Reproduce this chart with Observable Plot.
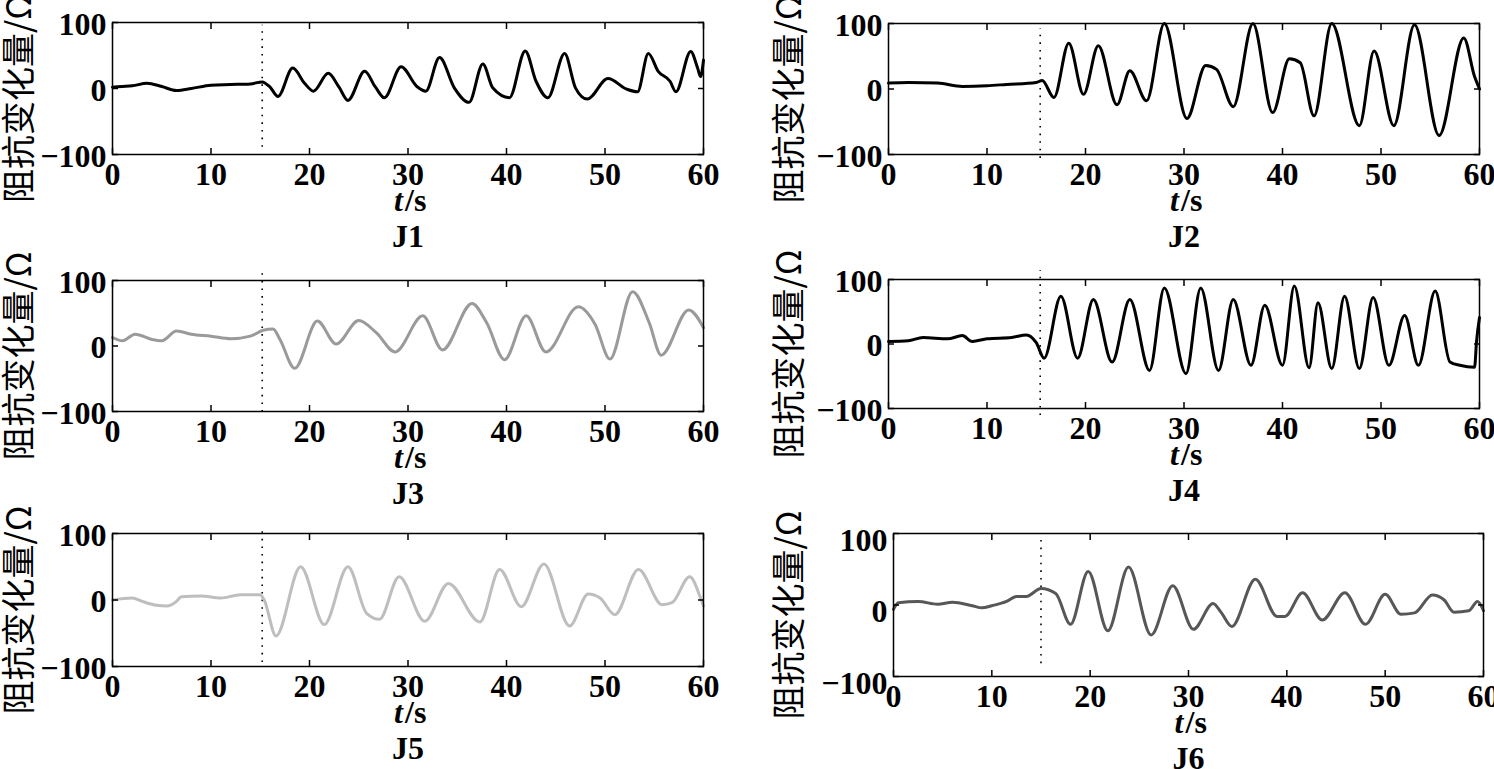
<!DOCTYPE html>
<html>
<head>
<meta charset="utf-8">
<script src="https://cdn.jsdelivr.net/npm/d3@7"></script>
<script src="https://cdn.jsdelivr.net/npm/@observablehq/plot@0.6"></script>
<style>
  html, body { margin: 0; padding: 0; background: #fff; }
  #chart { position: relative; width: 1494px; height: 769px; overflow: hidden; background: #fff; }
  .panel { position: absolute; }
  .panel svg { overflow: visible; }
</style>
</head>
<body>
<div id="chart"></div>
<script>
// ---------------- data ----------------
const xTicks = [0, 10, 20, 30, 40, 50, 60];
const yTicks = [-100, 0, 100];
const panelNames = ["J1", "J2", "J3", "J4", "J5", "J6"];
const yTitle = "阻抗变化量/Ω";
const xTitleVar = "t";
const xTitleUnit = "/s";

// time of the event (dotted vertical line) and its extent
const eventTimes = [15.2, 15.4, 15.2, 15.4, 15.2, 15.0];
const eventLow = [-89, -106, -101, -111, -94, -82];
const eventHigh = [96, 92, 113, 114, 109, 98];

// J1
const t1 = [0, 1, 2, 3.5, 5, 6.5, 8, 10, 12, 14, 15.2, 16, 16.8, 18.3, 19.5, 20.4, 21.9, 23, 23.9, 25.6, 26.7, 27.6, 29.3, 30.9, 31.8, 33.2, 34.7, 36.2, 37.6, 38.6, 40.3, 41.9, 43, 44.2, 45.9, 47, 48.2, 50.3, 52.2, 53.3, 54.4, 55.4, 56.6, 57.2, 58.7, 59.4, 59.7, 60];
const v1 = [2, 3, 4, 8, 3, -3, 0, 5, 6, 7, 10, 2, -12, 31, 8, -4, 23, 2, -18, 26, 2, -14, 33, 3, -4, 47, 1, -21, 37, 1, -14, 57, 11, -14, 53, 1, -16, 15, -1, -5, 53, 26, 11, -5, 56, 31, 18, 43];
// J2
const t2 = [0, 2, 5, 7.5, 10, 12, 15, 15.6, 16.8, 18.3, 19.8, 21.3, 23.2, 24.5, 26.2, 28, 30.3, 32.2, 33.3, 35, 37, 39, 40.7, 41.8, 43.2, 45, 47.8, 49.3, 51.3, 53.4, 55.9, 58.4, 59.5, 60];
const v2 = [9, 10, 9, 4, 5, 7, 10, 13, -13, 70, -8, 66, -24, 28, -18, 100, -45, 36, 30, -27, 100, -36, 46, 40, -41, 100, -56, 58, -56, 98, -71, 78, 19, 0];
// J3
const t3 = [0, 1, 2.3, 4, 5, 6.5, 8, 10, 12, 14, 15.3, 16.3, 17, 18.5, 20.8, 22.7, 25, 26.8, 28.7, 31.5, 33.5, 36.5, 38, 39.8, 42, 44, 47.3, 49, 50.5, 52.8, 54.5, 55.7, 58.5, 60];
const v3 = [13, 8, 18, 10, 8, 23, 18, 15, 11, 15, 24, 26, 10, -34, 38, 3, 39, 20, -9, 46, -6, 65, 35, -21, 46, -9, 60, 33, -20, 83, 35, -14, 55, 28];
// J4
const t4 = [0, 2, 3.5, 6, 7.5, 8.5, 10, 12.5, 14, 15, 15.8, 17.5, 19.2, 20.8, 22.7, 24.5, 26.5, 28, 30.2, 31.7, 33.5, 35, 36.8, 38.2, 40, 41.2, 42.7, 43.6, 45, 46.3, 47.8, 49.2, 50.8, 52.4, 53.8, 55.5, 57, 58, 59.5, 59.7, 60];
const v4 = [4, 5, 10, 8, 13, 4, 8, 10, 14, 2, -22, 74, -22, 69, -28, 69, -41, 87, -46, 87, -41, 69, -33, 60, -33, 90, -37, 64, -38, 74, -38, 72, -33, 44, -33, 82, -28, -33, -36, 4, 41];
// J5
const t5 = [0, 2, 3, 4.5, 5.5, 6.5, 7, 9, 11, 13, 15, 15.4, 16.6, 19.1, 21.5, 23.9, 25.8, 27.1, 29.1, 31.7, 34.1, 37.3, 39.3, 41.5, 43.8, 46.4, 48.3, 49.5, 51, 53.4, 55.8, 56.8, 58.6, 59.7, 60];
const v5 = [0, 3, -2, -8, -9, -2, 5, 6, 3, 8, 8, 0, -54, 50, -37, 50, -20, -29, 35, -32, 25, -33, 46, -10, 54, -39, 9, 3, -22, 46, -7, -4, 35, 3, -9];
// J6
const t6 = [0, 0.5, 2.5, 4.5, 6, 8, 9, 10, 11.5, 12.5, 13.5, 15, 16.5, 18, 19.8, 21.8, 23.9, 26.2, 28.4, 30.5, 32.5, 33.3, 34.4, 36.8, 39, 39.8, 41.6, 43.6, 45.9, 48, 50, 51.6, 53, 54.8, 56, 57, 58.5, 59.4, 60];
const v6 = [-6, 3, 5, 1, 4, -1, -4, -1, 5, 12, 12, 23, 16, -27, 47, -36, 53, -42, 27, -34, 2, -10, -30, 36, -16, -16, 17, -21, 17, -27, 15, -13, -11, 14, 7, -10, -8, 5, -8];

const seriesT = [t1, t2, t3, t4, t5, t6];
const seriesV = [v1, v2, v3, v4, v5, v6];

// ---------------- styles & layout ----------------
const colors = ["#000000", "#000000", "#9a9a9a", "#000000", "#bebebe", "#575757"];
// frame boxes [x0, y0, x1, y1] in page pixels
const frames = [
  [112, 22, 703, 154], [888, 23, 1479, 154],
  [112, 280, 703, 411], [888, 279, 1479, 408],
  [112, 533, 703, 666], [893, 533, 1483, 676]
];
// svg boxes [left, top, width, height]
const boxes = [
  [0, 0, 745, 250], [750, 0, 744, 250],
  [0, 250, 745, 260], [750, 250, 744, 260],
  [0, 510, 745, 259], [750, 510, 744, 259]
];
const yTitleX = [20, 790, 20, 790, 20, 790];
const yLabelDy = [2, 2, 2, 2, 2, 7];

const serif = "'Liberation Serif', 'Times New Roman', 'DejaVu Serif', serif";
const chart = document.getElementById("chart");

panelNames.forEach((name, i) => {
  const data = seriesT[i].map((t, k) => ({t, v: seriesV[i][k]}));
  const [fx0, fy0, fx1, fy1] = frames[i];
  const [bx, by, bw, bh] = boxes[i];
  const mL = fx0 - bx, mT = fy0 - by, mR = bx + bw - fx1, mB = by + bh - fy1;
  const plot = Plot.plot({
    width: bw, height: bh,
    marginLeft: mL, marginTop: mT, marginRight: mR, marginBottom: mB,
    x: {domain: [0, 60]},
    y: {domain: [-100, 100]},
    style: {fontFamily: serif, fontSize: "32px", fontWeight: "bold", background: "transparent", color: "black", overflow: "visible"},
    marks: [
      Plot.ruleX([eventTimes[i]], {x: d => d, y1: eventLow[i], y2: eventHigh[i], stroke: "black", strokeWidth: 1.6, strokeDasharray: "1.6,6"}),
      Plot.line(data, {x: "t", y: "v", stroke: colors[i], strokeWidth: 3, curve: "monotone-x"}),
      Plot.frame({stroke: "black", strokeWidth: 1.5}),
      Plot.axisX({anchor: "bottom", ticks: xTicks, tickSize: -6, tickPadding: 14, label: null, tickFormat: d => String(d), strokeWidth: 1.5}),
      Plot.axisX({anchor: "top", ticks: xTicks, tickSize: -6, label: null, tickFormat: () => "", strokeWidth: 1.5}),
      Plot.axisY({anchor: "left", ticks: yTicks, tickSize: -6, label: null, tickFormat: () => "", strokeWidth: 1.5}),
      Plot.axisY({anchor: "left", ticks: yTicks, tickSize: 0, tickPadding: 6, label: null, dy: yLabelDy[i]}),
      Plot.axisY({anchor: "right", ticks: yTicks, tickSize: -6, label: null, tickFormat: () => "", strokeWidth: 1.5}),
      Plot.text([xTitleVar], {frameAnchor: "bottom", text: d => d, dy: 46, dx: -5, textAnchor: "end", lineAnchor: "middle", fontStyle: "italic"}),
      Plot.text([xTitleUnit], {frameAnchor: "bottom", text: d => d, dy: 46, dx: -3, textAnchor: "start", lineAnchor: "middle"}),
      Plot.text([name], {frameAnchor: "bottom", text: d => d, dy: 82, textAnchor: "middle", lineAnchor: "middle"}),
      Plot.text([yTitle], {frameAnchor: "left", text: d => d, rotate: -90, dx: yTitleX[i] - fx0, dy: 10,
        textAnchor: "middle", lineAnchor: "middle",
        fontFamily: "'Noto Sans CJK SC', 'Noto Sans', sans-serif", fontWeight: "normal", fontSize: 34})
    ]
  });
  const div = document.createElement("div");
  div.className = "panel";
  div.style.left = bx + "px";
  div.style.top = by + "px";
  div.appendChild(plot);
  chart.appendChild(div);
});
</script>
</body>
</html>
